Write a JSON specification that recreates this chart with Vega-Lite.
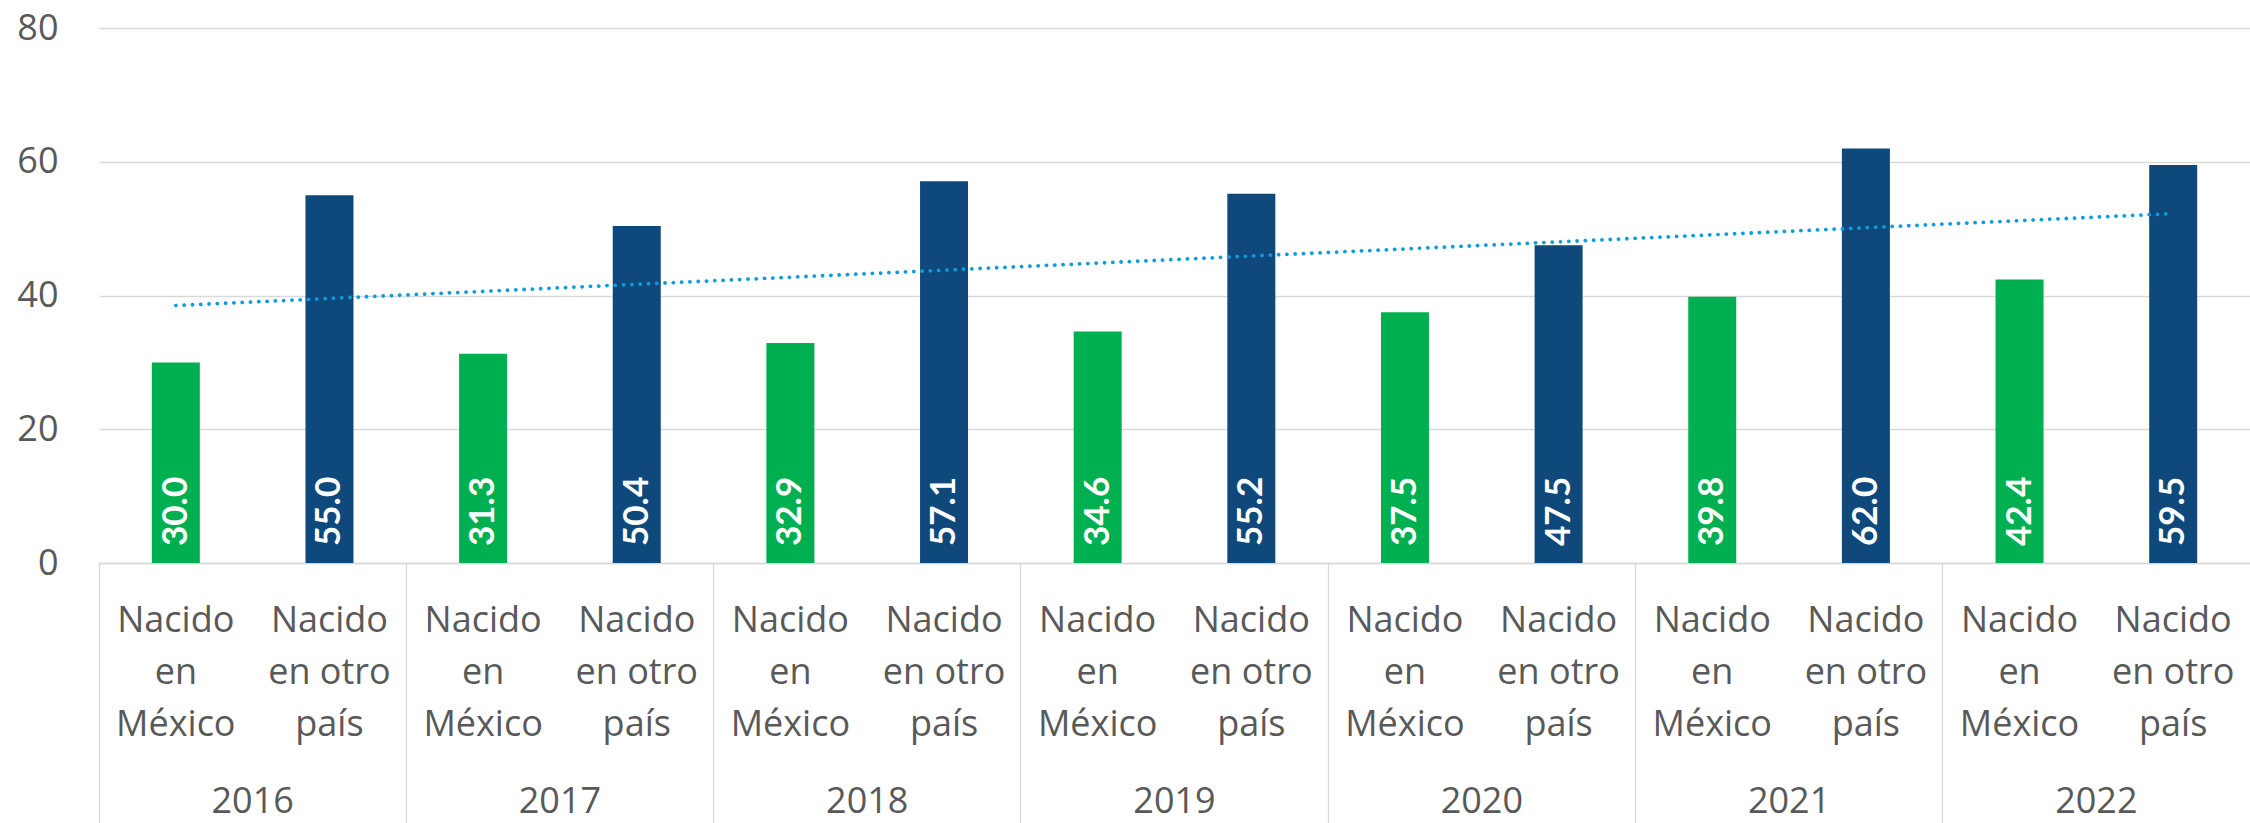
{
  "$schema": "https://vega.github.io/schema/vega-lite/v6.json",
  "autosize": "none",
  "width": 2151,
  "height": 535,
  "padding": {"left": 99, "top": 28, "right": 0, "bottom": 260},
  "background": "white",
  "config": {
    "view": {"stroke": null},
    "axis": {"labelFont": "Open Sans", "labelFontSize": 36, "labelColor": "#595959"}
  },
  "datasets": {
    "barras": [
      {"clave": "2016 Nacido en México", "anio": "2016", "grupo": "Nacido en México", "valor": 30.0},
      {"clave": "2016 Nacido en otro país", "anio": "2016", "grupo": "Nacido en otro país", "valor": 55.0},
      {"clave": "2017 Nacido en México", "anio": "2017", "grupo": "Nacido en México", "valor": 31.3},
      {"clave": "2017 Nacido en otro país", "anio": "2017", "grupo": "Nacido en otro país", "valor": 50.4},
      {"clave": "2018 Nacido en México", "anio": "2018", "grupo": "Nacido en México", "valor": 32.9},
      {"clave": "2018 Nacido en otro país", "anio": "2018", "grupo": "Nacido en otro país", "valor": 57.1},
      {"clave": "2019 Nacido en México", "anio": "2019", "grupo": "Nacido en México", "valor": 34.6},
      {"clave": "2019 Nacido en otro país", "anio": "2019", "grupo": "Nacido en otro país", "valor": 55.2},
      {"clave": "2020 Nacido en México", "anio": "2020", "grupo": "Nacido en México", "valor": 37.5},
      {"clave": "2020 Nacido en otro país", "anio": "2020", "grupo": "Nacido en otro país", "valor": 47.5},
      {"clave": "2021 Nacido en México", "anio": "2021", "grupo": "Nacido en México", "valor": 39.8},
      {"clave": "2021 Nacido en otro país", "anio": "2021", "grupo": "Nacido en otro país", "valor": 62.0},
      {"clave": "2022 Nacido en México", "anio": "2022", "grupo": "Nacido en México", "valor": 42.4},
      {"clave": "2022 Nacido en otro país", "anio": "2022", "grupo": "Nacido en otro país", "valor": 59.5}
    ],
    "tendencia": [
      {"clave": "2016 Nacido en México", "tendencia": 38.5},
      {"clave": "2022 Nacido en otro país", "tendencia": 52.25}
    ]
  },
  "resolve": {"axis": {"x": "independent"}},
  "layer": [
    {
      "data": {"name": "barras"},
      "mark": {"type": "bar", "size": 48},
      "encoding": {
        "x": {
          "field": "clave", "type": "nominal",
          "scale": {"paddingInner": 0, "paddingOuter": 0},
          "axis": {
            "orient": "bottom", "title": null, "ticks": false, "grid": false,
            "domain": true, "domainColor": "#d9d9d9", "domainWidth": 1.3,
            "labelAngle": 0, "labelAlign": "center", "labelBaseline": "top",
            "labelPadding": 40, "labelLineHeight": 52, "labelLimit": 300,
            "labelExpr": "indexof(datum.value, 'México') >= 0 ? ['Nacido', 'en', 'México'] : ['Nacido', 'en otro', 'país']"
          }
        },
        "y": {
          "field": "valor", "type": "quantitative",
          "scale": {"domain": [0, 80], "nice": false},
          "axis": {
            "title": null, "values": [0, 20, 40, 60, 80], "domain": false, "ticks": false,
            "grid": true, "gridColor": "#d9d9d9", "gridWidth": 1.3,
            "labelPadding": 41
          }
        },
        "color": {
          "field": "grupo", "type": "nominal",
          "scale": {"domain": ["Nacido en México", "Nacido en otro país"], "range": ["#00B050", "#0F497B"]},
          "legend": null
        }
      }
    },
    {
      "data": {"name": "barras"},
      "mark": {"type": "text", "angle": 270, "align": "left", "baseline": "middle", "dx": 17,
               "font": "Lato", "fontWeight": "bold", "fontSize": 35, "color": "white"},
      "encoding": {
        "x": {
          "field": "clave", "type": "nominal",
          "axis": {
            "orient": "bottom", "title": null, "labels": false, "domain": false, "grid": false,
            "ticks": true, "tickSize": 260, "tickColor": "#d9d9d9", "tickWidth": 1.3, "bandPosition": 0,
            "values": ["2016 Nacido en México", "2017 Nacido en México", "2018 Nacido en México", "2019 Nacido en México", "2020 Nacido en México", "2021 Nacido en México", "2022 Nacido en México"]
          }
        },
        "y": {"datum": 0, "type": "quantitative"},
        "text": {"field": "valor", "type": "quantitative", "format": ".1f"}
      }
    },
    {
      "data": {"name": "tendencia"},
      "mark": {"type": "line", "color": "#0E9CE0", "strokeWidth": 3.8, "strokeCap": "round", "strokeDash": [0.1, 8.2]},
      "encoding": {
        "x": {
          "field": "clave", "type": "nominal",
          "axis": {
            "orient": "bottom", "title": null, "ticks": false, "domain": false, "grid": false,
            "labelAngle": 0, "labelAlign": "center", "labelBaseline": "top", "labelPadding": 221,
            "labelOffset": -76.8,
            "values": ["2016 Nacido en otro país", "2017 Nacido en otro país", "2018 Nacido en otro país", "2019 Nacido en otro país", "2020 Nacido en otro país", "2021 Nacido en otro país", "2022 Nacido en otro país"],
            "labelExpr": "substring(datum.value, 0, 4)"
          }
        },
        "y": {"field": "tendencia", "type": "quantitative"}
      }
    }
  ]
}
